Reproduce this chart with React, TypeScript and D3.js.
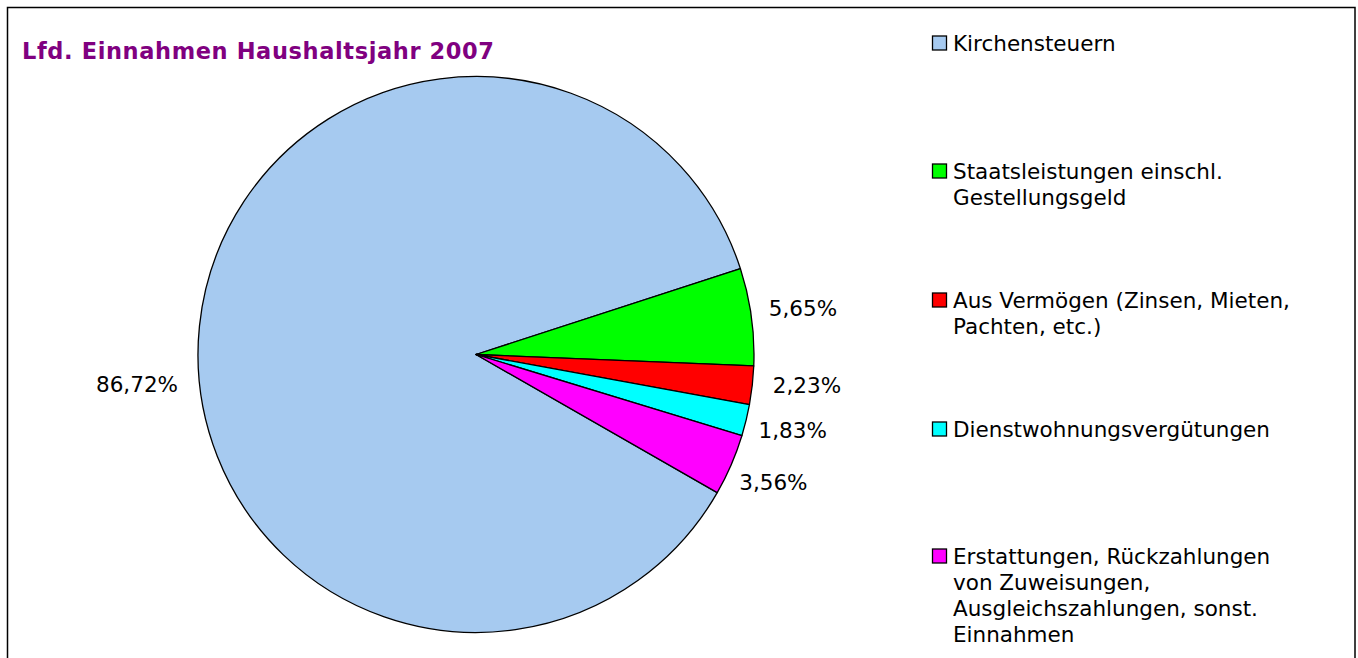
import React from "react";
import * as d3 from "d3";

const categories = [
  "Kirchensteuern",
  "Staatsleistungen einschl. Gestellungsgeld",
  "Aus Vermögen (Zinsen, Mieten, Pachten, etc.)",
  "Dienstwohnungsvergütungen",
  "Erstattungen, Rückzahlungen von Zuweisungen, Ausgleichszahlungen, sonst. Einnahmen",
];
const values = [86.72, 5.65, 2.23, 1.83, 3.56];
const valueLabels = ["86,72%", "5,65%", "2,23%", "1,83%", "3,56%"];
const legendLines = [
  ["Kirchensteuern"],
  ["Staatsleistungen einschl.", "Gestellungsgeld"],
  ["Aus Vermögen (Zinsen, Mieten,", "Pachten, etc.)"],
  ["Dienstwohnungsvergütungen"],
  ["Erstattungen, Rückzahlungen", "von Zuweisungen,", "Ausgleichszahlungen, sonst.", "Einnahmen"],
];
const colors = ["#A6CAF0", "#00FF00", "#FF0000", "#00FFFF", "#FF00FF"];
const title = "Lfd. Einnahmen Haushaltsjahr 2007";

const W = 1358;
const H = 658;
const cx = 476;
const cy = 354.5;
const R = 278;
const FONT = "'DejaVu Sans', Verdana, sans-serif";

export default function App() {
  const start = (119.8 * Math.PI) / 180;
  const pie = d3
    .pie<number>()
    .sort(null)
    .value((d) => d)
    .startAngle(start)
    .endAngle(start + 2 * Math.PI);
  const arcs = pie(values);
  const arc = d3.arc<d3.PieArcDatum<number>>().innerRadius(0).outerRadius(R);

  const labelOffsets = [0, 52, 55, 48, 46];
  const labelDy = [0, 0, -5, 0, 1];
  const legendY = [43, 171, 300, 429, 556];

  return (
    <svg
      width={W}
      height={H}
      style={{ position: "absolute", left: 0, top: 0, background: "#fff" }}
      fontFamily={FONT}
    >
      <rect x={7.5} y={7.5} width={1347.5} height={700} fill="#fff" stroke="#000" strokeWidth={1.5} />
      <text x={22} y={59} fill="#800080" fontWeight="bold" fontSize={22.5} textLength={472} lengthAdjust="spacing">
        {title}
      </text>
      <g transform={`translate(${cx},${cy})`}>
        {arcs.map((a, i) => (
          <path key={categories[i]} d={arc(a) || ""} fill={colors[i]} stroke="#000" strokeWidth={1.3} strokeLinejoin="round" />
        ))}
        {arcs.map((a, i) => {
          if (i === 0) {
            return (
              <text key={"l" + i} x={137 - cx} y={386 - cy} textAnchor="middle" dominantBaseline="middle" fontSize={21.5}>
                {valueLabels[i]}
              </text>
            );
          }
          const m = (a.startAngle + a.endAngle) / 2;
          const r = R + labelOffsets[i];
          const x = Math.sin(m) * r;
          const y = -Math.cos(m) * r + labelDy[i];
          return (
            <text key={"l" + i} x={x} y={y} textAnchor="middle" dominantBaseline="middle" fontSize={21.5}>
              {valueLabels[i]}
            </text>
          );
        })}
      </g>
      {legendLines.map((lines, i) => (
        <g key={"lg" + i}>
          <rect x={932.5} y={legendY[i] - 7} width={14} height={14} fill={colors[i]} stroke="#000" strokeWidth={1.3} />
          {lines.map((ln, j) => (
            <text key={j} x={953} y={legendY[i] + 1.5 + j * 26} dominantBaseline="middle" fontSize={21.5}>
              {ln}
            </text>
          ))}
        </g>
      ))}
    </svg>
  );
}
